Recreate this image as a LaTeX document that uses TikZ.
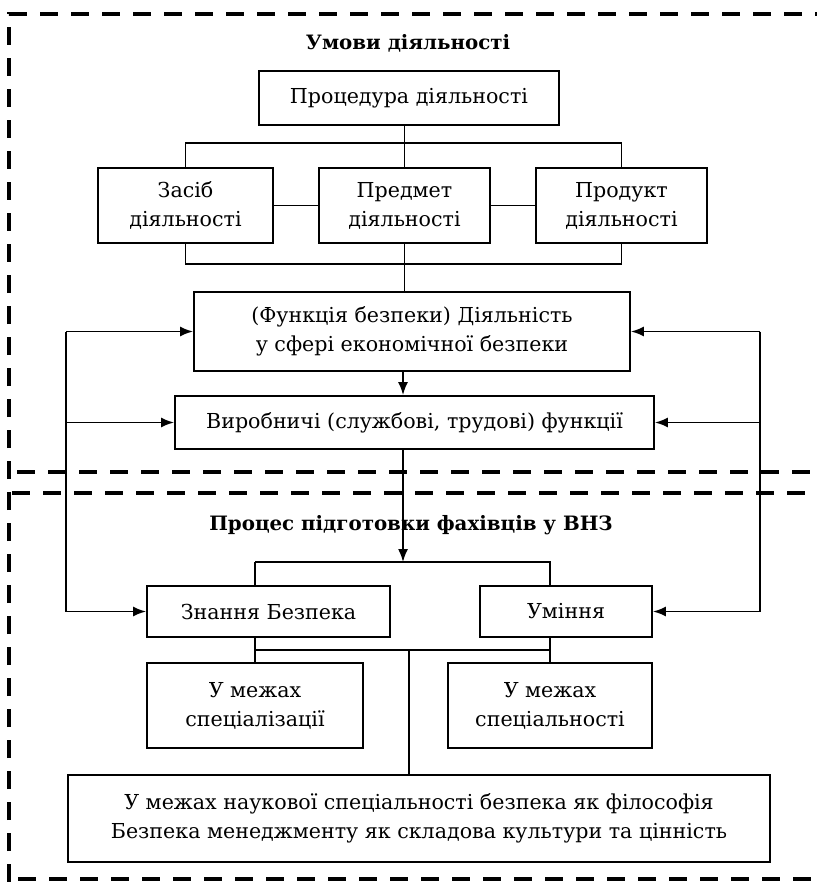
\documentclass[tikz,border=0pt]{standalone}
\usepackage{fontspec}
\setmainfont{DejaVu Serif}
\usetikzlibrary{arrows.meta}
\begin{document}
\begin{tikzpicture}[x=1pt,y=-1pt,
  box/.style={draw, line width=1.9pt, inner sep=0pt, align=center, font=\fontsize{20.6}{29}\selectfont},
  heading/.style={inner sep=0pt, font=\fontsize{19.8}{24}\selectfont\bfseries},
  conn/.style={line width=1.7pt},
  arr/.style={line width=1.7pt, -{Latex[length=13pt,width=10pt]}},
  frame/.style={line width=3.8pt, dash pattern=on 18pt off 13pt}]
\useasboundingbox (0,0) rectangle (817,882);

% dashed frame
\draw[frame] (9,882) -- (9,14) -- (817,14);
\draw[frame] (17,472) -- (817,472);
\draw[frame] (12,493) -- (817,493);
\draw[frame] (18,879) -- (817,879);

% headings
\node[heading] (t1) at (408,43) {Умови діяльності};
\node[heading] (t2) at (411,525) {Процес підготовки фахівців у ВНЗ};

% boxes
\node[box, minimum width=300pt, minimum height=54pt] (proc) at (409,98) {Процедура діяльності};
\node[box, minimum width=175pt, minimum height=75pt] (zasib) at (185.5,205.5) {Засіб\\діяльності};
\node[box, minimum width=171pt, minimum height=75pt] (predmet) at (404.5,205.5) {Предмет\\діяльності};
\node[box, minimum width=171pt, minimum height=75pt] (produkt) at (621.5,205.5) {Продукт\\діяльності};
\node[box, minimum width=436pt, minimum height=79pt] (func) at (412,331.5) {(Функція безпеки) Діяльність\\у сфері економічної безпеки};
\node[box, minimum width=479pt, minimum height=53pt] (vyrob) at (414.5,422.5) {Виробничі (службові, трудові) функції};
\node[box, minimum width=243pt, minimum height=51pt] (znan) at (268.5,611.5) {Знання Безпека};
\node[box, minimum width=172pt, minimum height=51pt] (umin) at (566,611.5) {Уміння};
\node[box, minimum width=216pt, minimum height=85pt] (spec1) at (255,705.5) {У межах\\спеціалізації};
\node[box, minimum width=204pt, minimum height=85pt] (spec2) at (550,705.5) {У межах\\спеціальності};
\node[box, minimum width=702pt, minimum height=87pt] (bottom) at (419,818.5) {У межах наукової спеціальності безпека як філософія\\Безпека менеджменту як складова культури та цінність};

% coordinates
\coordinate (bus1) at (404.5,143);
\coordinate (bus2) at (404.5,264);
\coordinate (lt) at (66,331.5);
\coordinate (rt) at (760,331.5);
\coordinate (bus3) at (403,562);
\coordinate (bus4) at (409,650);

% top tree
\draw[conn] (predmet.north |- proc.south) -- (predmet.north);
\draw[conn] (zasib.north) |- (bus1) -| (produkt.north);
\draw[conn] (zasib.east) -- (predmet.west);
\draw[conn] (predmet.east) -- (produkt.west);
\draw[conn] (zasib.south) |- (bus2) -| (produkt.south);
\draw[conn] (predmet.south) -- (predmet.south |- func.north);
\draw[arr] (bus3 |- func.south) -- (bus3 |- vyrob.north);
\draw[arr] (bus3 |- vyrob.south) -- (bus3);

% lower tree
\draw[conn] (spec1.north |- znan.south) |- (bus4) -| (spec2.north |- umin.south);
\draw[conn] (spec1.north |- bus3) |- (bus3) -| (spec2.north |- umin.north);
\draw[conn] (spec1.north |- bus3) -- (spec1.north |- znan.north);
\draw[conn] (spec1.north |- bus4) -- (spec1.north);
\draw[conn] (spec2.north |- bus4) -- (spec2.north);
\draw[conn] (bus4) -- (bus4 |- bottom.north);

% feedback loops
\draw[conn] (lt) -- (lt |- znan.west);
\draw[arr] (lt) -- (func.west);
\draw[arr] (lt |- vyrob.west) -- (vyrob.west);
\draw[arr] (lt |- znan.west) -- (znan.west);
\draw[conn] (rt) -- (rt |- umin.east);
\draw[arr] (rt) -- (func.east);
\draw[arr] (rt |- vyrob.east) -- (vyrob.east);
\draw[arr] (rt |- umin.east) -- (umin.east);
\end{tikzpicture}
\end{document}
